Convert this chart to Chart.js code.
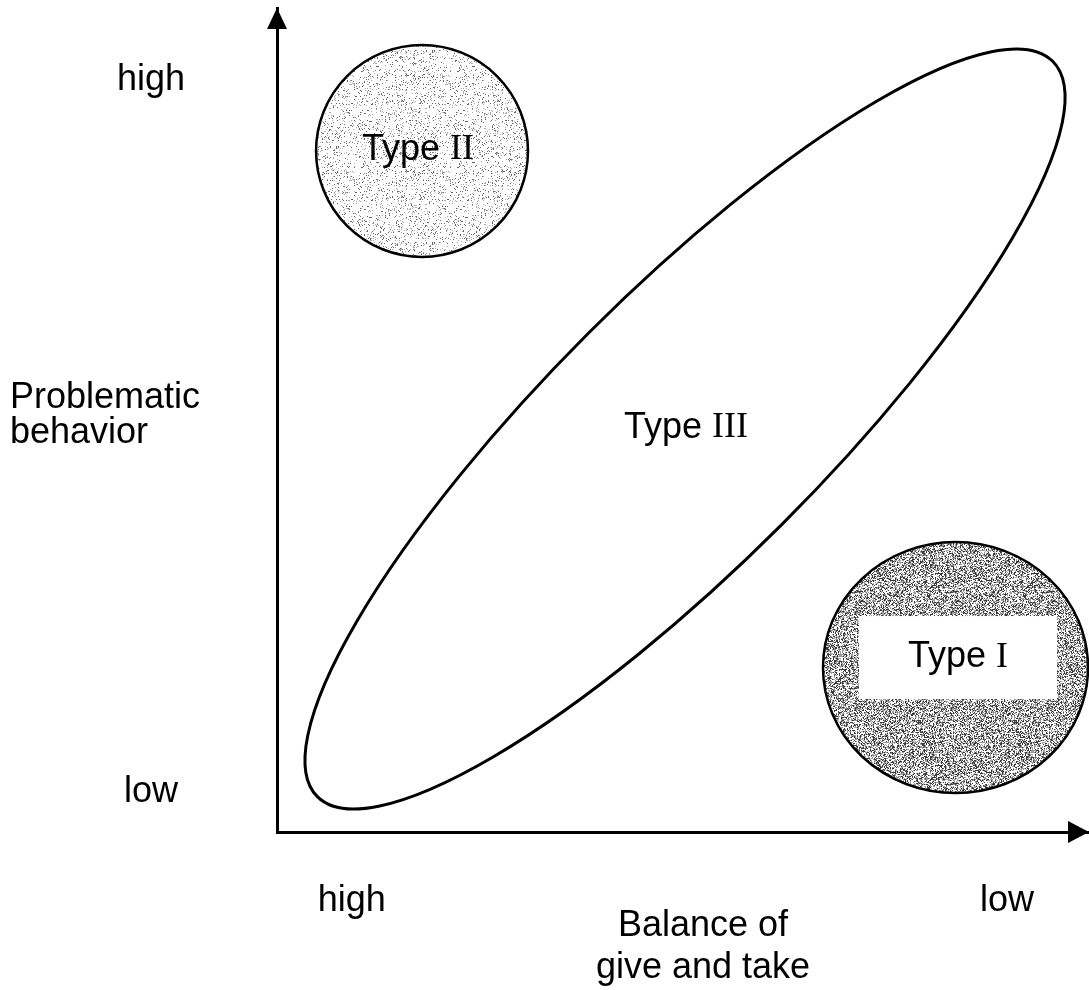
<!DOCTYPE html>
<html>
<head>
<meta charset="utf-8">
<script src="https://cdn.jsdelivr.net/npm/chart.js@4.4.0/dist/chart.umd.min.js"></script>
<style>
  body { margin: 0; background: #fff; }
  #wrap { width: 1089px; height: 990px; }
</style>
</head>
<body>
<div id="wrap"><canvas id="graph" width="1089" height="990"></canvas></div>
<script>
// both axes run 0..100 (x: balance of give and take, y: problematic behavior)
const xTickValues = [9.2, 89.9];
const xTickLabels = ['high', 'low'];
const yTickValues = [4.85, 91.3];
const yTickLabels = ['low', 'high'];
const xTitle = ['Balance of', 'give and take'];
const yTitle = ['Problematic', 'behavior'];

// regions: centre, end of first half-axis (tip), end of second half-axis (side)
const regionNames = ['Type I', 'Type II', 'Type III'];
const regionX = [83.56, 17.86, 50.25];
const regionY = [19.96, 82.65, 48.91];
const regionTipX = [99.88, 30.91, 95.53];
const regionTipY = [19.96, 82.65, 93.53];
const regionSideX = [83.56, 17.86, 38.4];
const regionSideY = [35.19, 95.51, 60.58];

function stipple(density, dark, light, seed) {
    const size = 96;
    const c = document.createElement('canvas');
    c.width = c.height = size;
    const g = c.getContext('2d');
    g.fillStyle = '#fff';
    g.fillRect(0, 0, size, size);
    let s = seed;
    for (let i = 0; i < size * size; i++) {
        s = (s * 1103515245 + 12345) & 0x7fffffff;
        const r = s / 0x7fffffff;
        if (r < density) {
            g.fillStyle = r < density * 0.45 ? dark : light;
            g.fillRect(i % size, Math.floor(i / size), 1, 1);
        }
    }
    return g.createPattern(c, 'repeat');
}

const diagramPlugin = {
    id: 'diagram',
    afterDraw(chart, args, opts) {
        const ctx = chart.ctx;
        const xs = chart.scales.x, ys = chart.scales.y;
        const area = chart.chartArea;
        ctx.save();

        // regions
        regionNames.forEach((name, i) => {
            const cx = xs.getPixelForValue(regionX[i]), cy = ys.getPixelForValue(regionY[i]);
            const tx = xs.getPixelForValue(regionTipX[i]), ty = ys.getPixelForValue(regionTipY[i]);
            const sx = xs.getPixelForValue(regionSideX[i]), sy = ys.getPixelForValue(regionSideY[i]);
            const a = Math.hypot(tx - cx, ty - cy);
            const b = Math.hypot(sx - cx, sy - cy);
            const rot = Math.atan2(ty - cy, tx - cx);
            ctx.beginPath();
            ctx.ellipse(cx, cy, a, b, rot, 0, Math.PI * 2);
            if (opts.fills[i]) {
                ctx.fillStyle = opts.fills[i];
                ctx.fill();
            }
            ctx.lineWidth = opts.lineWidths[i];
            ctx.strokeStyle = '#000';
            ctx.stroke();

            const lx = cx + opts.labelOffsets[i][0], ly = cy + opts.labelOffsets[i][1];
            if (opts.labelBoxes[i]) {
                const [w, h] = opts.labelBoxes[i];
                ctx.fillStyle = '#fff';
                ctx.fillRect(lx - w / 2, ly - h / 2, w, h);
            }
            // "Type" in sans, roman numeral in serif
            const parts = name.split(' ');
            const sans = '36px "Liberation Sans", Arial, sans-serif';
            const serif = '36px "Liberation Serif", "Times New Roman", serif';
            ctx.font = sans;
            const w1 = ctx.measureText(parts[0] + ' ').width;
            ctx.font = serif;
            const w2 = ctx.measureText(parts[1]).width;
            let x0 = lx - (w1 + w2) / 2;
            ctx.fillStyle = '#000';
            ctx.textBaseline = 'middle';
            ctx.textAlign = 'left';
            ctx.font = sans;
            ctx.fillText(parts[0], x0, ly);
            ctx.font = serif;
            ctx.fillText(parts[1], x0 + w1, ly);
        });

        // arrow heads
        const yAxisX = area.left, xAxisY = area.bottom;
        ctx.fillStyle = '#000';
        ctx.beginPath();
        ctx.moveTo(yAxisX, area.top);
        ctx.lineTo(yAxisX - 10, area.top + 21);
        ctx.lineTo(yAxisX + 10, area.top + 21);
        ctx.closePath();
        ctx.fill();
        ctx.beginPath();
        ctx.moveTo(area.right, xAxisY);
        ctx.lineTo(area.right - 21, xAxisY - 11);
        ctx.lineTo(area.right - 21, xAxisY + 11);
        ctx.closePath();
        ctx.fill();

        // axis titles
        ctx.font = '36px "Liberation Sans", Arial, sans-serif';
        ctx.textBaseline = 'alphabetic';
        ctx.textAlign = 'left';
        yTitle.forEach((t, i) => ctx.fillText(t, 10, 408 + i * 35));
        ctx.textAlign = 'center';
        xTitle.forEach((t, i) => ctx.fillText(t, 703, 936 + i * 42));
        ctx.restore();
    }
};

const ctx = document.getElementById('graph').getContext('2d');
Chart.defaults.font.family = '"Liberation Sans", Arial, sans-serif';
Chart.defaults.color = '#000';

const myChart = new Chart(ctx, {
    type: 'scatter',
    data: { datasets: [] },
    options: {
        responsive: false,
        animation: false,
        layout: { padding: { top: 8, right: 0, left: 0, bottom: 0 } },
        plugins: {
            legend: { display: false },
            tooltip: { enabled: false },
            diagram: {
                fills: [stipple(0.55, '#3a3a3a', '#9a9a9a', 7), stipple(0.13, '#666', '#aaa', 11), null],
                lineWidths: [2.5, 2.5, 3],
                labelOffsets: [[2.5, -10], [-4, -1], [1, -1]],
                labelBoxes: [[198, 83], null, null]
            }
        },
        scales: {
            x: {
                type: 'linear',
                min: 0,
                max: 100,
                grid: { display: false, drawTicks: false },
                border: { display: true, color: '#000', width: 3 },
                afterBuildTicks: (s) => { s.ticks = xTickValues.map(v => ({ value: v })); },
                afterFit: (s) => { s.height = 158; s.paddingLeft = 0; s.paddingRight = 0; },
                ticks: {
                    padding: 47,
                    font: { size: 36 },
                    autoSkip: false,
                    maxRotation: 0,
                    callback: (v, i) => xTickLabels[i]
                }
            },
            y: {
                type: 'linear',
                min: 0,
                max: 100,
                grid: { display: false, drawTicks: false },
                border: { display: true, color: '#000', width: 3 },
                afterBuildTicks: (s) => { s.ticks = yTickValues.map(v => ({ value: v })); },
                afterFit: (s) => { s.width = 277; s.paddingTop = 0; s.paddingBottom = 0; },
                ticks: {
                    padding: 92,
                    crossAlign: 'center',
                    font: { size: 36 },
                    autoSkip: false,
                    callback: (v, i) => yTickLabels[i]
                }
            }
        }
    },
    plugins: [diagramPlugin]
});
</script>
</body>
</html>
